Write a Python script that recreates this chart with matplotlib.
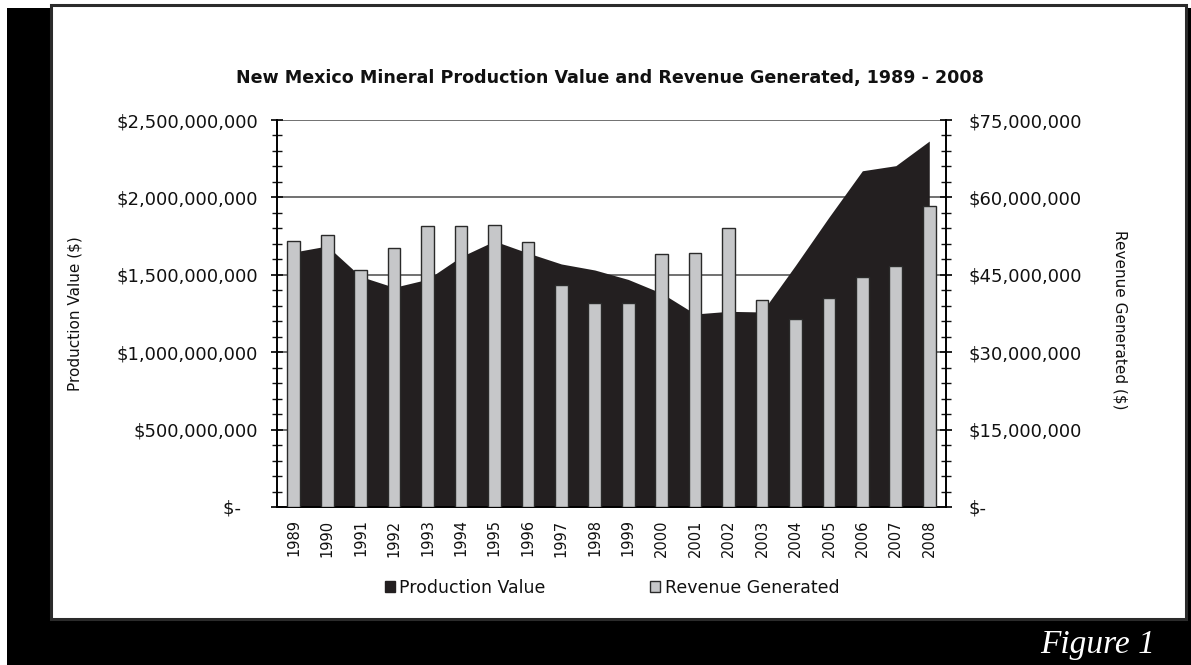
import numpy as np
import matplotlib
matplotlib.use("Agg")
import matplotlib.pyplot as plt
from matplotlib.patches import Rectangle, Patch
from matplotlib.ticker import MultipleLocator, FuncFormatter

years = [str(y) for y in range(1989, 2009)]

# production value ($) and revenue generated ($)
production = np.array([1.647, 1.686, 1.489, 1.419, 1.471, 1.617, 1.718, 1.641, 1.570, 1.531,
                       1.470, 1.381, 1.247, 1.264, 1.260, 1.561, 1.872, 2.172, 2.205, 2.364]) * 1e9
revenue = np.array([51.6, 52.8, 45.9, 50.1, 54.5, 54.5, 54.7, 51.4, 43.0, 39.5,
                    39.5, 49.0, 49.2, 54.1, 40.1, 36.4, 40.6, 44.6, 46.8, 58.4]) * 1e6

plt.rcParams['font.family'] = 'DejaVu Sans'

fig = plt.figure(figsize=(11.91, 6.65), dpi=100)

# black backing and the white panel
fig.patches.append(Rectangle((7 / 1191, 0), 1184 / 1191, 657 / 665, transform=fig.transFigure,
                             facecolor='black', edgecolor='none', zorder=-10))
fig.patches.append(Rectangle((51 / 1191, 46 / 665), 1135 / 1191, 614 / 665, transform=fig.transFigure,
                             facecolor='white', edgecolor='#2b2b2b', linewidth=2.2, zorder=-9))

ax = fig.add_axes([277 / 1191, 1 - 507 / 665, 669 / 1191, 387 / 665])
ax.patch.set_visible(False)
ax2 = ax.twinx()

x = np.arange(len(years))

ax.fill_between(x, 0, production, color='#231f20', linewidth=0, zorder=2)
ax.set_ylim(0, 2.5e9)
ax.set_xlim(-0.5, len(years) - 0.5)
ax.yaxis.set_major_locator(MultipleLocator(5e8))
ax.yaxis.set_minor_locator(MultipleLocator(1e8))
ax.grid(axis='y', which='major', color='#4a4a4a', linewidth=1.1)
ax.set_axisbelow(True)

def left_fmt(v, pos):
    if v == 0:
        return '$-   '
    return '${:,.0f}'.format(v)

def right_fmt(v, pos):
    if v == 0:
        return '$-'
    return '${:,.0f}'.format(v)

ax.yaxis.set_major_formatter(FuncFormatter(left_fmt))

ax2.bar(x, revenue, width=0.38, color='#c6c7c9', edgecolor='#2a2a2a', linewidth=1.0, zorder=3)
ax2.set_ylim(0, 75e6)
ax2.yaxis.set_major_locator(MultipleLocator(15e6))
ax2.yaxis.set_minor_locator(MultipleLocator(3e6))
ax2.yaxis.set_major_formatter(FuncFormatter(right_fmt))

for a in (ax, ax2):
    a.spines['top'].set_visible(False)
    for s in ('left', 'right', 'bottom'):
        a.spines[s].set_linewidth(1.4)

ax.spines['right'].set_visible(False)
ax2.spines['left'].set_visible(False)
ax2.spines['bottom'].set_visible(False)

ax.tick_params(axis='y', which='major', direction='inout', length=9, width=1.3,
               labelsize=13, pad=9, colors='#111111')
ax.tick_params(axis='y', which='minor', direction='inout', length=7, width=1.0, colors='#111111')
ax2.tick_params(axis='y', which='major', direction='inout', length=9, width=1.3,
                labelsize=13, pad=12, colors='#111111')
ax2.tick_params(axis='y', which='minor', direction='inout', length=7, width=1.0, colors='#111111')

ax.set_xticks(x)
ax.set_xticklabels(years, rotation=90, fontsize=10.5)
ax.tick_params(axis='x', length=0, pad=9, colors='#111111')

fig.text(610 / 1191, 1 - 78 / 665, 'New Mexico Mineral Production Value and Revenue Generated, 1989 - 2008',
         ha='center', va='center', fontsize=12.6, fontweight='bold', color='#111111')
fig.text(75 / 1191, 1 - 314 / 665, 'Production Value ($)', rotation=90,
         ha='center', va='center', fontsize=11, color='#111111')
fig.text(1120 / 1191, 1 - 320 / 665, 'Revenue Generated ($)', rotation=270,
         ha='center', va='center', fontsize=11, color='#111111')

handles = [Patch(facecolor='#231f20', edgecolor='#231f20', label='Production Value'),
           Patch(facecolor='#c6c7c9', edgecolor='#2a2a2a', linewidth=1.0, label='Revenue Generated')]
fig.legend(handles=handles, loc='center', bbox_to_anchor=(612 / 1191, 1 - 588 / 665), ncol=2,
           frameon=False, fontsize=12.5, handlelength=0.6, handleheight=0.6,
           handletextpad=0.25, columnspacing=6.0, labelcolor='#111111')

fig.text(1155 / 1191, 1 - 645 / 665, 'Figure 1', ha='right', va='center', color='white',
         fontsize=24, style='italic', family='Liberation Serif')

fig.savefig('out.png', dpi=100)
